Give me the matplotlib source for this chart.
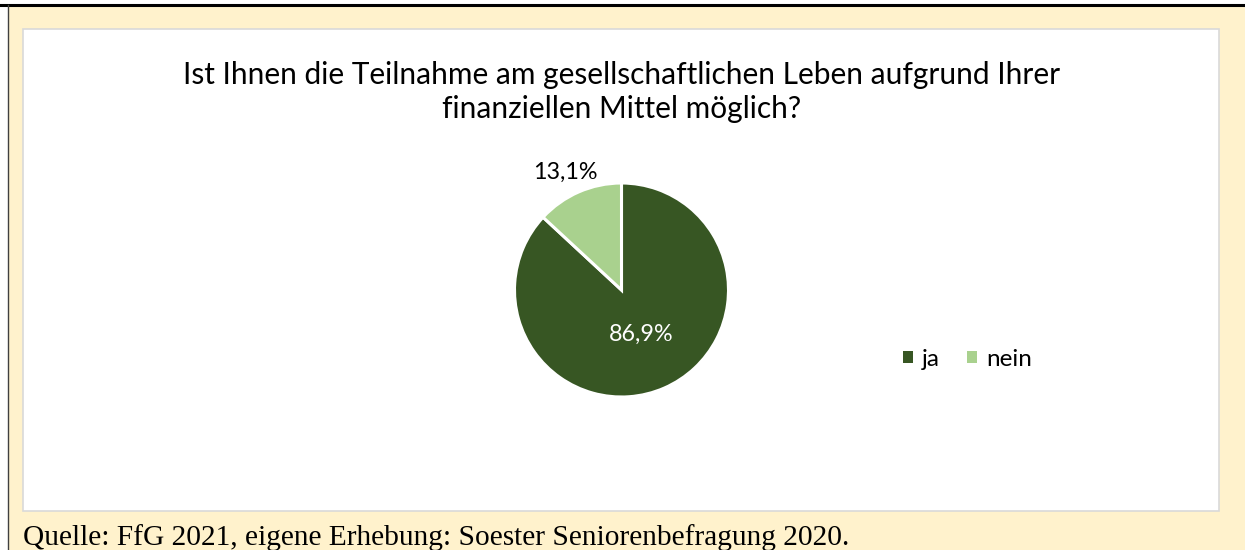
import matplotlib
matplotlib.use("Agg")
import matplotlib.pyplot as plt
from matplotlib.patches import Rectangle, Patch
import numpy as np

# data
categories = ["ja", "nein"]
shares = [86.9, 13.1]
colors = ["#375623", "#A9D18E"]
title = "Ist Ihnen die Teilnahme am gesellschaftlichen Leben aufgrund Ihrer\nfinanziellen Mittel möglich?"
source = "Quelle: FfG 2021, eigene Erhebung: Soester Seniorenbefragung 2020."

W, H = 1245, 550
fig = plt.figure(figsize=(W / 100, H / 100), dpi=100, facecolor="white")

def fx(px):
    return px / W

def fy(py):
    return 1 - py / H

# yellow page background + frame lines
fig.patches.append(Rectangle((fx(8), 0), 1, fy(6), transform=fig.transFigure,
                             facecolor="#FFF2CC", edgecolor="none", zorder=0))
fig.add_artist(plt.Line2D([0, 1], [fy(5), fy(5)], transform=fig.transFigure,
                          color="black", lw=2.2))
fig.add_artist(plt.Line2D([fx(7.5), fx(7.5)], [0, fy(5)], transform=fig.transFigure,
                          color="#404040", lw=1.0))

# white chart area
fig.patches.append(Rectangle((fx(23), fy(511)), fx(1219 - 23), (511 - 29) / H,
                             transform=fig.transFigure, facecolor="white",
                             edgecolor="#D9D9D9", lw=1.2, zorder=1))

fig.text(0.4995, fy(92), title, ha="center", va="center", fontsize=21.5,
         family="Lato", color="#000000", linespacing=1.27, zorder=3)

# pie
cx, cy, r = 621.5, 290, 107
ax = fig.add_axes([fx(cx - r), fy(cy + r), 2 * r / W, 2 * r / H])
ax.set_zorder(3)
wedges, texts, autotexts = ax.pie(
    shares, colors=colors, startangle=90, counterclock=False,
    autopct=lambda p: f"{p:.1f}%".replace(".", ","), pctdistance=0.45,
    wedgeprops=dict(edgecolor="white", linewidth=2.2),
    textprops=dict(fontsize=16.8, family="Lato"))
ax.set_xlim(-1, 1)
ax.set_ylim(-1, 1)
ax.set_aspect("equal")
autotexts[0].set_color("white")
# outside label for the small slice
w = wedges[1]
mid = np.deg2rad((w.theta1 + w.theta2) / 2)
autotexts[1].set_position((1.30 * np.cos(mid), 1.20 * np.sin(mid)))
autotexts[1].set_color("black")

handles = [Patch(facecolor=c, edgecolor="none") for c in colors]
fig.legend(handles, categories, ncol=2, frameon=False, loc="center left",
           bbox_to_anchor=(fx(903), fy(359)), prop=dict(family="Lato", size=17.5),
           borderpad=0, borderaxespad=0,
           handlelength=0.42, handleheight=0.42, handletextpad=0.37, columnspacing=1.1)

fig.text(fx(23), fy(545), source, ha="left", va="baseline", fontsize=21.2,
         family="Liberation Serif", color="black")

fig.savefig("out.png", dpi=100, facecolor=fig.get_facecolor())
